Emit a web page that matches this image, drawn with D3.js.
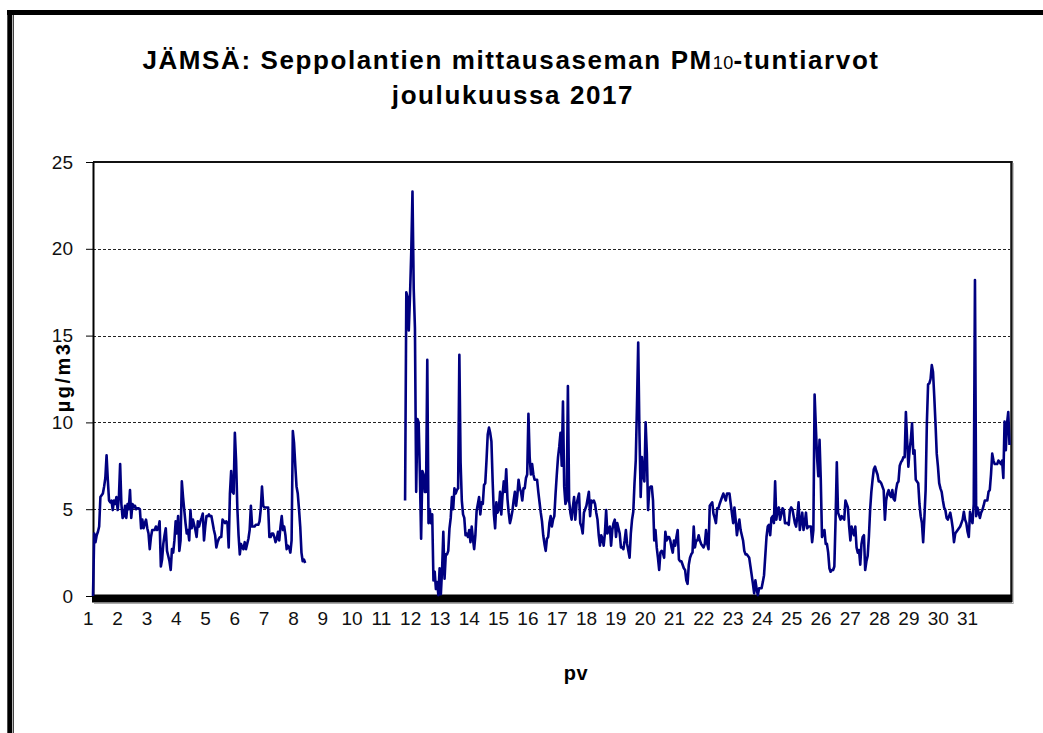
<!DOCTYPE html>
<html>
<head>
<meta charset="utf-8">
<script src="https://cdn.jsdelivr.net/npm/d3@7"></script>
<style>
  html, body { margin: 0; padding: 0; background: #fff; }
  svg { display: block; font-family: "Liberation Sans", Arial, sans-serif; }
</style>
</head>
<body>
<svg id="chart" width="1043" height="733"></svg>
<script>
// hourly PM10 values, Dec 2017 (hour 0 = 1.12. klo 0)
// first run of data: 1.12. 00 -> 8.12. 04
const part1Start = 0;
const part1 = [
  0, 3.6, 3.1, 3.5, 3.7, 4.0, 5.7, 5.8, 5.9, 6.3, 6.8, 8.1, 6.7, 5.5, 5.4, 5.5, 4.95, 5.5, 5.3, 5.7, 4.95, 5.7, 7.6, 5.3,
  4.5, 4.6, 5.2, 4.5, 5.3, 5.0, 6.1, 4.5, 5.3, 5.1, 5.2, 5.0, 5.05, 5.05, 5.0, 3.9, 4.4, 3.9, 4.2, 4.4, 3.9, 3.6, 2.7, 3.4,
  3.8, 3.8, 3.8, 4.0, 3.8, 3.9, 4.3, 1.7, 2.1, 3.0, 3.5, 3.9, 2.6, 2.3, 2.0, 1.5, 2.7, 2.5, 3.2, 4.3, 3.6, 4.6, 2.6, 3.2,
  6.6, 5.7, 4.95, 4.2, 3.6, 3.8, 3.2, 4.95, 3.9, 4.4, 4.1, 3.8, 3.4, 4.3, 4.0, 4.3, 4.5, 4.75, 3.2, 4.0, 4.6, 4.6, 4.7, 4.6,
  4.6, 4.2, 3.8, 3.5, 2.8, 3.1, 3.3, 3.4, 3.4, 4.4, 4.3, 4.2, 4.3, 4.2, 2.8, 5.9, 7.2, 6.0, 5.9, 9.4, 7.8, 5.1, 3.5, 2.4,
  3.0, 2.8, 2.7, 3.1, 2.7, 3.0, 3.3, 3.8, 5.2, 4.0, 4.0, 4.0, 4.1, 4.1, 4.1, 4.3, 5.0, 6.3, 5.2, 5.1, 5.1, 5.1, 5.1, 3.4,
  3.4, 3.6, 3.6, 3.4, 3.1, 3.3, 3.7, 3.2, 4.0, 4.6, 3.8, 4.0, 3.5, 2.7, 2.9, 2.8, 2.5, 3.2, 9.5, 8.8, 7.5, 6.3, 5.9, 5.0,
  4.0, 2.5, 2.0, 2.1, 1.9
];

// second run: 11.12. 13 -> 31.12. 23
const part2Start = 253;
const part2 = [
  5.5, 17.5, 17.2, 15.3, 17.3, 19.8, 23.3, 17.7, 15.4, 6.0, 10.2,
  10.0, 7.0, 3.3, 7.2, 7.0, 6.0, 6.0, 13.6, 4.2, 5.0, 4.2, 4.7, 0.9, 1.4, 0.4, 0.8, 0.05, 1.6, 0.1, 1.5, 3.7, 1.0, 2.4, 2.4,
  2.6, 3.9, 4.5, 5.7, 5.0, 6.2, 5.9, 6.1, 6.2, 13.9, 7.7, 5.5, 4.7, 4.5, 3.5, 3.6, 3.4, 3.8, 3.1, 4.0, 3.3, 2.7, 3.5, 4.9,
  5.3, 5.7, 4.7, 5.4, 5.3, 6.4, 6.5, 7.8, 9.3, 9.7, 9.4, 8.9, 6.6, 4.7, 3.9, 5.4, 4.8, 5.0, 6.0, 4.7, 5.8, 6.6, 6.0, 7.3,
  5.6, 4.8, 4.2, 4.5, 4.9, 5.5, 6.0, 5.2, 5.8, 6.7, 6.2, 6.0, 5.5, 6.2, 6.2, 6.8, 7.0, 10.5, 8.0, 7.0, 7.6, 7.0, 6.7, 6.7,
  6.7, 6.0, 5.4, 4.8, 4.3, 3.5, 3.0, 2.6, 3.3, 3.4, 4.2, 4.6, 4.0, 4.4, 4.6, 5.9, 7.0, 8.0, 8.6, 9.4, 7.5, 11.2, 6.3, 5.3,
  5.5, 12.1, 5.5, 4.8, 4.4, 5.1, 5.7, 4.4, 5.3, 5.6, 5.9, 4.2, 4.0, 3.6, 4.8, 5.0, 5.2, 5.6, 6.0, 4.6, 5.5, 5.4, 5.5, 5.3,
  4.8, 4.4, 3.5, 2.9, 3.5, 3.3, 2.9, 3.6, 4.95, 3.6, 3.8, 4.0, 2.9, 3.8, 4.2, 4.4, 3.4, 4.2, 3.9, 3.6, 2.8, 2.8, 2.7, 3.2,
  3.8, 3.0, 2.6, 2.2, 3.6, 4.4, 4.85, 6.5, 7.8, 11.0, 14.6, 9.4, 5.7, 8.0, 7.0, 6.6, 10.0, 8.2, 4.95, 6.2, 6.3, 6.3, 5.5, 3.2,
  3.8, 2.8, 2.2, 1.5, 2.5, 2.6, 2.5, 2.2, 3.7, 3.2, 3.4, 3.4, 3.2, 2.8, 2.5, 3.2, 2.9, 3.4, 3.8, 2.1, 2.0, 2.0, 1.8, 1.6,
  1.5, 0.9, 0.7, 1.8, 2.2, 2.4, 2.5, 4.0, 2.8, 3.2, 3.2, 3.5, 3.2, 3.0, 2.9, 2.8, 3.0, 3.8, 3.0, 2.7, 5.2, 5.3, 5.4, 4.75,
  4.5, 4.2, 5.05, 5.05, 5.3, 5.5, 5.7, 5.9, 5.7, 5.5, 5.9, 5.9, 5.9, 5.3, 4.75, 4.2, 5.1, 4.4, 3.5, 4.0, 4.4, 3.8, 3.5, 3.2,
  2.6, 2.4, 2.4, 2.3, 2.2, 1.7, 1.2, 0.7, 0.15, 0.9, 0.4, 0.05, 0.45, 0.45, 0.45, 0.8, 1.2, 2.3, 3.4, 4.0, 4.1, 3.5, 4.5, 4.6,
  4.2, 6.6, 4.4, 5.0, 5.1, 4.4, 4.7, 5.05, 4.95, 4.2, 4.2, 4.2, 4.1, 4.95, 5.1, 5.0, 4.6, 4.2, 4.0, 4.6, 5.4, 3.8, 4.3, 4.8,
  3.8, 4.2, 4.8, 3.9, 4.0, 4.0, 4.0, 3.1, 3.8, 11.6, 9.75, 8.0, 6.9, 9.0, 6.7, 3.4, 3.6, 3.8, 3.0, 3.0, 2.5, 1.6, 1.4, 1.5,
  1.5, 1.7, 4.4, 7.7, 4.8, 4.6, 4.4, 4.6, 4.5, 4.4, 5.5, 5.3, 5.1, 4.0, 3.2, 4.0, 3.7, 3.5, 4.0, 2.8, 2.5, 2.65, 1.8, 3.0,
  3.4, 3.5, 1.5, 2.0, 2.3, 3.4, 4.95, 6.0, 6.7, 7.3, 7.45, 7.2, 7.0, 6.6, 6.6, 6.5, 6.3, 6.1, 4.4, 5.5, 5.9, 6.1, 5.8, 5.7,
  6.1, 5.6, 5.5, 6.1, 6.5, 6.6, 7.5, 7.7, 7.8, 8.0, 8.0, 10.6, 9.0, 7.45, 8.4, 9.0, 9.95, 8.2, 8.4, 6.7, 6.6, 6.5, 5.3, 4.6,
  4.2, 3.1, 4.5, 6.1, 9.95, 12.2, 12.25, 12.5, 13.3, 12.9, 11.5, 9.95, 8.2, 7.45, 6.5, 6.2, 6.0, 5.5, 5.1, 4.95, 4.5, 4.4, 4.6, 4.8,
  4.4, 3.9, 3.1, 3.6, 3.7, 3.8, 3.9, 4.0, 4.2, 4.4, 4.85, 4.4, 4.2, 3.7, 3.4, 4.85, 4.5, 4.2, 5.3, 18.2, 4.6, 5.1, 4.8, 4.5,
  4.8, 4.95, 5.2, 5.5, 5.5, 5.5, 6.0, 6.1, 7.0, 8.2, 7.8, 7.6, 7.6, 7.6, 7.8, 7.7, 7.6, 7.8, 6.8, 10.05, 8.4, 9.95, 10.6, 8.7
];

const hoursInMonth = 744;
const dayLabels = d3.range(1, 32);
const yTicks = [0, 5, 10, 15, 20, 25];
const gridValues = [5, 10, 15, 20];

// build the hourly series, null where the station had no data
const series = d3.range(hoursInMonth).map(h => ({ h: h, v: null }));
part1.forEach((v, i) => { series[part1Start + i].v = v; });
part2.forEach((v, i) => { series[part2Start + i].v = v; });

const W = 1043, H = 733;
const plot = { left: 93, right: 1010, top: 162, bottom: 596 };

const svg = d3.select('#chart');
svg.append('rect').attr('width', W).attr('height', H).attr('fill', '#fff');

// outer frame (thick + thin on the left)
svg.append('line').attr('x1', 7).attr('x2', W).attr('y1', 12.5).attr('y2', 12.5)
  .attr('stroke', '#000').attr('stroke-width', 5);
svg.append('line').attr('x1', 9.8).attr('x2', 9.8).attr('y1', 10).attr('y2', H)
  .attr('stroke', '#000').attr('stroke-width', 5);
svg.append('line').attr('x1', 13.5).attr('x2', 13.5).attr('y1', 15).attr('y2', H)
  .attr('stroke', '#444').attr('stroke-width', 1);

const x = d3.scaleLinear().domain([0, hoursInMonth - 1]).range([plot.left, plot.right - 0.5]);
const y = d3.scaleLinear().domain([0, 25]).range([plot.bottom, plot.top]);
// excel puts the day labels a little tighter than the hour grid
const xDay = d3.scalePoint().domain(dayLabels).range([87.8, 967]);

// gridlines
svg.append('g').selectAll('line')
  .data(gridValues)
  .enter()
  .append('line')
  .attr('x1', plot.left).attr('x2', plot.right)
  .attr('y1', d => Math.round(y(d)) + 0.5).attr('y2', d => Math.round(y(d)) + 0.5)
  .attr('stroke', '#222').attr('stroke-width', 1)
  .attr('stroke-dasharray', '3,2');

// plot border: top + right
svg.append('line').attr('x1', plot.left).attr('x2', plot.right + 1).attr('y1', plot.top).attr('y2', plot.top)
  .attr('stroke', '#111').attr('stroke-width', 2);
svg.append('line').attr('x1', plot.right + 1.5).attr('x2', plot.right + 1.5).attr('y1', plot.top - 1).attr('y2', plot.bottom + 6)
  .attr('stroke', '#111').attr('stroke-width', 2.5);
svg.append('line').attr('x1', plot.right + 3.2).attr('x2', plot.right + 3.2).attr('y1', plot.top + 1).attr('y2', plot.bottom + 8)
  .attr('stroke', '#aaa').attr('stroke-width', 1);

// y axis
const yAxis = svg.append('g')
  .attr('transform', 'translate(' + plot.left + ',0)')
  .call(d3.axisLeft(y).tickValues(yTicks).tickSize(7).tickPadding(13).tickSizeOuter(0));
yAxis.select('.domain').attr('stroke', '#000').attr('stroke-width', 2);
yAxis.selectAll('.tick line').attr('stroke', '#000').attr('stroke-width', 1);
yAxis.selectAll('.tick text').attr('font-size', 19).attr('fill', '#111')
  .attr('font-family', '"Liberation Sans", Arial, sans-serif');

// heavy x axis bar
svg.append('rect')
  .attr('x', plot.left - 1).attr('y', plot.bottom - 1.5)
  .attr('width', plot.right - plot.left + 3).attr('height', 8)
  .attr('fill', '#000');
svg.append('line').attr('x1', plot.left + 1).attr('x2', plot.right + 3).attr('y1', plot.bottom + 7.5).attr('y2', plot.bottom + 7.5)
  .attr('stroke', '#aaa').attr('stroke-width', 1);

// x labels (days)
const xAxis = svg.append('g')
  .attr('transform', 'translate(0,' + (plot.bottom + 6) + ')')
  .call(d3.axisBottom(xDay).tickSize(0).tickPadding(10));
xAxis.select('.domain').remove();
xAxis.selectAll('.tick text').attr('font-size', 19).attr('fill', '#111')
  .attr('font-family', '"Liberation Sans", Arial, sans-serif');

// the data line
const line = d3.line()
  .defined(d => d.v !== null)
  .x(d => x(d.h))
  .y(d => y(d.v));

svg.append('path')
  .datum(series)
  .attr('d', line)
  .attr('fill', 'none')
  .attr('stroke', '#000080')
  .attr('stroke-width', 2.6)
  .attr('stroke-linejoin', 'round');

// titles (excel renders them wider than the browser does)
const title = svg.append('text')
  .attr('x', 511).attr('y', 69)
  .attr('text-anchor', 'middle')
  .attr('font-size', 26).attr('font-weight', 'bold').attr('fill', '#000')
  .attr('letter-spacing', 1.6);
title.append('tspan').text('JÄMSÄ: Seppolantien mittausaseman PM');
title.append('tspan').attr('font-size', 18).attr('font-weight', 'normal').attr('letter-spacing', 0.3).text('10');
title.append('tspan').text('-tuntiarvot');

svg.append('text')
  .attr('x', 513).attr('y', 104)
  .attr('text-anchor', 'middle')
  .attr('font-size', 26).attr('font-weight', 'bold').attr('fill', '#000')
  .attr('letter-spacing', 1.6)
  .text('joulukuussa 2017');

svg.append('text')
  .attr('transform', 'translate(70,377) rotate(-90)')
  .attr('text-anchor', 'middle')
  .attr('font-size', 20).attr('font-weight', 'bold').attr('fill', '#000')
  .attr('letter-spacing', 2.5)
  .text('µg/m3');

svg.append('text')
  .attr('x', 576).attr('y', 680)
  .attr('text-anchor', 'middle')
  .attr('font-size', 20).attr('font-weight', 'bold').attr('fill', '#000')
  .attr('letter-spacing', 0.5)
  .text('pv');
</script>
</body>
</html>
